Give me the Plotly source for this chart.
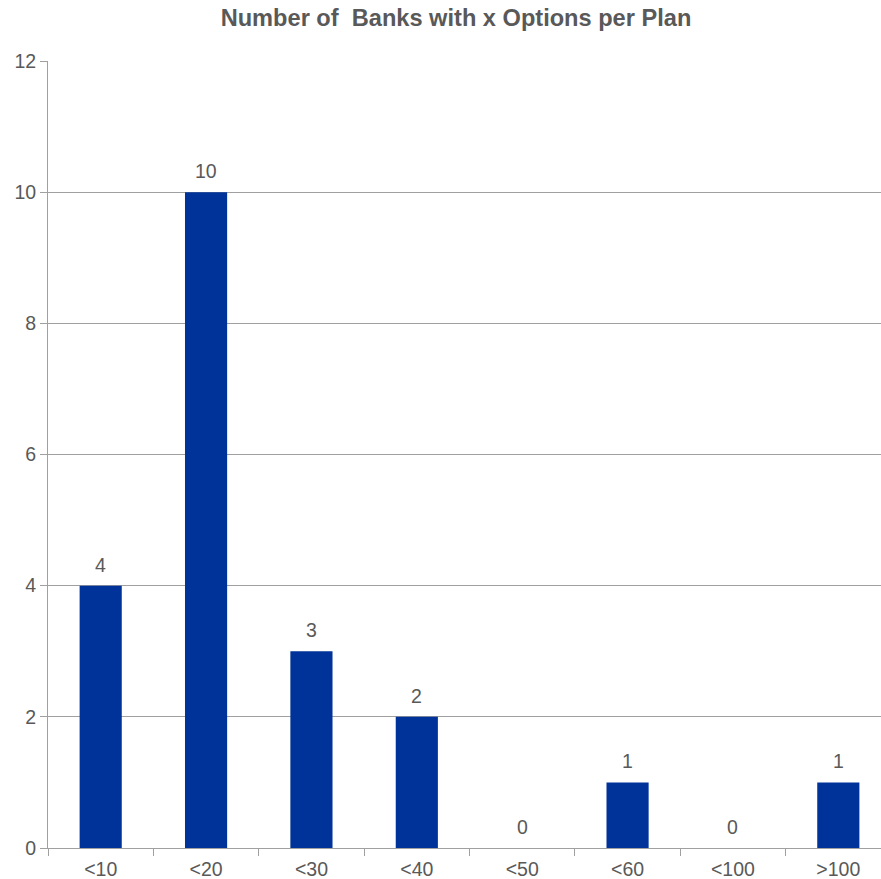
import plotly.graph_objects as go

categories = ["<10", "<20", "<30", "<40", "<50", "<60", "<100", ">100"]
values = [4, 10, 3, 2, 0, 1, 0, 1]
y_ticks = [0, 2, 4, 6, 8, 10, 12]

txt = "#595959"
fam = "Liberation Sans, Arial"
fig = go.Figure(go.Bar(
    x=categories, y=values, width=0.4,
    marker=dict(color="#003399", line=dict(width=0)),
    hoverinfo="x+y",
))
for c, v in zip(categories, values):
    fig.add_annotation(x=c, y=v, text=str(v), showarrow=False,
                       yanchor="middle", yshift=21,
                       font=dict(family=fam, size=19.5, color=txt))
fig.update_layout(
    width=881, height=879,
    margin=dict(l=48, r=0, t=61, b=31),
    paper_bgcolor="white", plot_bgcolor="white",
    showlegend=False,
    title=dict(text="<b>Number of&nbsp; Banks with x Options per Plan</b>",
               x=456/881, xanchor="center", y=1 - 18/879, yanchor="middle",
               font=dict(family=fam, size=23.6, color=txt)),
    font=dict(family=fam, size=19.5, color=txt),
    bargap=0.6,
)
fig.update_xaxes(
    range=[-0.5, 7.5 - 10/105.4], tickson="boundaries", ticks="outside",
    ticklen=7, tickcolor="#a0a0a0", showline=True, linecolor="#a0a0a0",
    showgrid=False, tickfont=dict(size=19.5, color=txt),
    ticklabelstandoff=4, automargin=False,
)
fig.update_yaxes(
    range=[0, 12], tickvals=y_ticks, ticks="outside", ticklen=7,
    tickcolor="#a0a0a0", showline=True, linecolor="#a0a0a0",
    showgrid=True, gridcolor="#a0a0a0", gridwidth=1, zeroline=False,
    tickfont=dict(size=19.5, color=txt), automargin=False,
)
fig.write_html("out.html")
